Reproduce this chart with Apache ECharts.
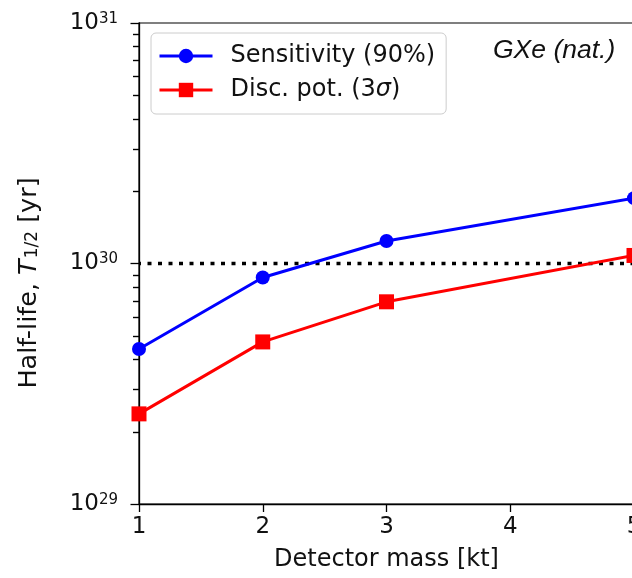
<!DOCTYPE html>
<html>
<head>
<meta charset="utf-8">
<script src="https://cdn.jsdelivr.net/npm/echarts@6/dist/echarts.min.js"></script>
<style>
html,body{margin:0;padding:0;background:#fff;}
#chart{width:632px;height:578px;}
</style>
</head>
<body>
<div id="chart"></div>
<script>
// ---- data ----
const massKt = [1, 2, 3, 5];
const sensitivity90 = [4.41e29, 8.75e29, 1.24e30, 1.87e30];
const discPot3sigma = [2.37e29, 4.72e29, 6.93e29, 1.08e30];
const xTickValues = [1, 2, 3, 4, 5];
const yMajorTicks = [1e29, 1e30, 1e31];
const yMinorTicks = [2e29, 3e29, 4e29, 5e29, 6e29, 7e29, 8e29, 9e29,
                     2e30, 3e30, 4e30, 5e30, 6e30, 7e30, 8e30, 9e30];
const thresholdX = [1, 5.2];
const thresholdValue = 1e30;
const seriesNames = ['Sensitivity (90%)', 'Disc. pot. (3σ)'];

const FONT = 'DejaVu Sans';

const chart = echarts.init(document.getElementById('chart'), null, {renderer: 'canvas'});

const baseGraphic = [
  {
    id: 'ylabel',
    type: 'text',
    x: 29, y: 283,
    rotation: Math.PI / 2,
    style: {
      text: '{m|Half-life, }{t|T}{u|1/2}{m| [yr]}',
      align: 'center',
      verticalAlign: 'middle',
      rich: {
        m: {fontFamily: FONT, fontSize: 25.5, lineHeight: 25, verticalAlign: 'top', fill: '#111'},
        t: {fontFamily: FONT, fontSize: 25.5, lineHeight: 25, verticalAlign: 'top', fontStyle: 'italic', fill: '#111'},
        u: {fontFamily: FONT, fontSize: 17, lineHeight: 17, padding: [9, 0, 0, 1], verticalAlign: 'bottom', fill: '#111'}
      }
    }
  },
  {
    id: 'gxe',
    type: 'text',
    x: 493, y: 51,
    style: {
      text: 'GXe (nat.)',
      fontFamily: 'Liberation Sans',
      fontStyle: 'italic',
      fontSize: 26.5,
      fill: '#111',
      align: 'left',
      verticalAlign: 'middle'
    }
  }
];

const option = {
  animation: false,
  backgroundColor: '#ffffff',
  grid: {
    left: 139, right: -2, top: 23, bottom: 74,
    containLabel: false,
    outerBoundsMode: 'none',
    show: true, borderColor: '#000', borderWidth: 1.2, backgroundColor: 'transparent'
  },
  legend: {
    data: seriesNames,
    orient: 'vertical',
    left: 151, top: 33,
    padding: [11, 11, 12, 7],
    itemGap: 10,
    itemWidth: 53,
    itemHeight: 18,
    backgroundColor: 'rgba(255,255,255,0.8)',
    borderColor: '#cccccc',
    borderWidth: 1,
    borderRadius: 5,
    selectedMode: false,
    lineStyle: {width: 3},
    formatter: function (name) {
      if (name.indexOf('σ') >= 0) {
        return '{n|Disc. pot. (3}{i|σ}{n|)}';
      }
      return '{n|' + name + '}';
    },
    textStyle: {
      padding: [0, 0, 0, 13],
      rich: {
        n: {fontFamily: FONT, fontSize: 24, color: '#111', lineHeight: 24},
        i: {fontFamily: FONT, fontSize: 24, fontStyle: 'italic', color: '#111', lineHeight: 24}
      }
    }
  },
  xAxis: {
    type: 'value',
    min: 1, max: 5, interval: 1,
    name: 'Detector mass [kt]',
    nameLocation: 'middle',
    nameGap: 44,
    nameTextStyle: {fontFamily: FONT, fontSize: 24, color: '#111'},
    axisLine: {show: true, onZero: false, lineStyle: {color: '#000', width: 1.3}},
    axisTick: {show: true, inside: false, length: 8, lineStyle: {color: '#000', width: 1.3}},
    axisLabel: {
      margin: 12, fontFamily: FONT, fontSize: 23, color: '#111',
      showMaxLabel: true, showMinLabel: true, hideOverlap: false,
      formatter: function (v) { return String(v); }
    },
    splitLine: {show: false}
  },
  yAxis: {
    type: 'log',
    logBase: 10,
    min: yMajorTicks[0], max: yMajorTicks[yMajorTicks.length - 1],
    axisLine: {show: true, onZero: false, lineStyle: {color: '#000', width: 1.3}},
    axisTick: {show: true, inside: false, length: 8.5, lineStyle: {color: '#000', width: 1.3}},
    axisLabel: {
      margin: 21,
      showMaxLabel: true, showMinLabel: true,
      formatter: function (v) {
        const e = Math.round(Math.log10(v));
        return '{b|10}{s|' + e + '}';
      },
      rich: {
        b: {fontFamily: FONT, fontSize: 23, lineHeight: 23, verticalAlign: 'bottom', color: '#111'},
        s: {fontFamily: FONT, fontSize: 15, lineHeight: 15, padding: [0, 0, 9, 0], verticalAlign: 'top', color: '#111'}
      }
    },
    splitLine: {show: false}
  },
  graphic: baseGraphic,
  series: [
    {
      name: 'threshold',
      type: 'line',
      data: thresholdX.map(function (x) { return [x, thresholdValue]; }),
      symbol: 'none',
      clip: false,
      z: 1,
      lineStyle: {color: '#000', width: 3.5, type: [4, 6.5], dashOffset: 2, cap: 'butt'},
      silent: true
    },
    {
      name: seriesNames[0],
      type: 'line',
      data: massKt.map(function (x, i) { return [x, sensitivity90[i]]; }),
      symbol: 'circle',
      symbolSize: 14,
      clip: false,
      z: 3,
      itemStyle: {color: '#0000ff'},
      lineStyle: {color: '#0000ff', width: 3}
    },
    {
      name: seriesNames[1],
      type: 'line',
      data: massKt.map(function (x, i) { return [x, discPot3sigma[i]]; }),
      symbol: 'rect',
      symbolSize: 15,
      clip: false,
      z: 3,
      itemStyle: {color: '#ff0000'},
      lineStyle: {color: '#ff0000', width: 3}
    }
  ]
};

chart.setOption(option);

// minor log ticks on the y axis, positioned through the chart's own scales
const minorGraphics = yMinorTicks.map(function (v, i) {
  const p = chart.convertToPixel({xAxisIndex: 0, yAxisIndex: 0}, [xTickValues[0], v]);
  const y = Math.round(p[1]) + 0.5;
  return {
    id: 'minor' + i,
    type: 'line',
    z: 10,
    silent: true,
    shape: {x1: p[0] - 6, y1: y, x2: p[0], y2: y},
    style: {stroke: '#000', lineWidth: 1.4}
  };
});
chart.setOption({graphic: baseGraphic.concat(minorGraphics)});
</script>
</body>
</html>
